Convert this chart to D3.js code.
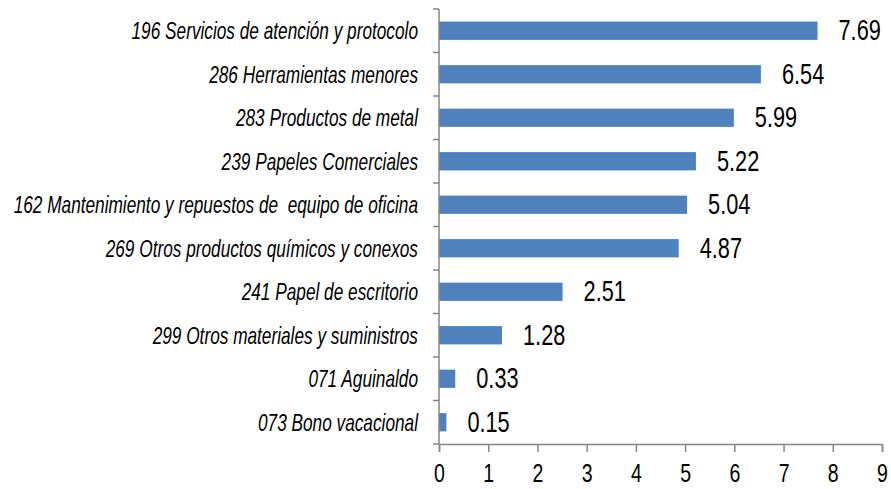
<!DOCTYPE html>
<html>
<head>
<meta charset="utf-8">
<script src="https://cdn.jsdelivr.net/npm/d3@7"></script>
<style>
  body { margin: 0; background: #fff; }
  .narrow { font-family: "Liberation Sans", Arial, sans-serif; }
</style>
</head>
<body>
<script>
// categories, top to bottom
var categories = [
  "196 Servicios de atención y protocolo",
  "286 Herramientas menores",
  "283 Productos de metal",
  "239 Papeles Comerciales",
  "162 Mantenimiento y repuestos de  equipo de oficina",
  "269 Otros productos químicos y conexos",
  "241 Papel de escritorio",
  "299 Otros materiales y suministros",
  "071 Aguinaldo",
  "073 Bono vacacional"
];
var values = [7.69, 6.54, 5.99, 5.22, 5.04, 4.87, 2.51, 1.28, 0.33, 0.15];
var xTicks = [0, 1, 2, 3, 4, 5, 6, 7, 8, 9];

var width = 891, height = 489;
var margin = {top: 9, right: 9, bottom: 45, left: 439};
// no narrow font installed, so squeeze the regular one sideways
var squeeze = 0.75;

var svg = d3.select("body").append("svg")
  .attr("width", width)
  .attr("height", height);

var x = d3.scaleLinear()
  .domain([0, 9])
  .range([margin.left, width - margin.right]);

var y = d3.scaleBand()
  .domain(categories)
  .range([margin.top, height - margin.bottom])
  .paddingInner(0.58)
  .paddingOuter(0.29);

// bars
svg.selectAll("rect.bar")
  .data(values)
  .enter().append("rect")
  .attr("class", "bar")
  .attr("x", x(0))
  .attr("y", function(d, i) { return y(categories[i]); })
  .attr("width", function(d) { return x(d) - x(0); })
  .attr("height", y.bandwidth())
  .attr("fill", "#4f81bd");

// value labels
svg.selectAll("text.val")
  .data(values)
  .enter().append("text")
  .attr("class", "val narrow")
  .attr("transform", function(d, i) {
    return "translate(" + (x(d) + 21) + "," + (y(categories[i]) + y.bandwidth() / 2 - 1) + ") scale(" + squeeze + ",1)";
  })
  .attr("dy", "0.36em")
  .attr("font-size", 29)
  .attr("fill", "#000")
  .text(function(d) { return d.toFixed(2); });

// y axis: line plus ticks between categories
var axisColor = "#868686";
var step = y.step();
var yEdges = d3.range(categories.length + 1).map(function(i) { return margin.top + i * step; });

svg.append("line")
  .attr("x1", x(0)).attr("x2", x(0))
  .attr("y1", margin.top).attr("y2", height - margin.bottom)
  .attr("stroke", axisColor).attr("stroke-width", 1.5);

svg.selectAll("line.ytick")
  .data(yEdges)
  .enter().append("line")
  .attr("class", "ytick")
  .attr("x1", x(0) - 6).attr("x2", x(0))
  .attr("y1", function(d) { return d; }).attr("y2", function(d) { return d; })
  .attr("stroke", axisColor).attr("stroke-width", 1.5);

// category labels
svg.selectAll("text.cat")
  .data(categories)
  .enter().append("text")
  .attr("class", "cat narrow")
  .attr("transform", function(d) {
    return "translate(" + (x(0) - 21) + "," + (y(d) + y.bandwidth() / 2) + ") scale(" + squeeze + ",1)";
  })
  .attr("dy", "0.36em")
  .attr("text-anchor", "end")
  .attr("font-size", 23)
  .attr("font-style", "italic")
  .attr("fill", "#000")
  .style("white-space", "pre")
  .text(function(d) { return d; });

// x axis
var xAxis = svg.append("g")
  .attr("transform", "translate(0," + (height - margin.bottom) + ")")
  .call(d3.axisBottom(x).tickValues(xTicks).tickSize(8).tickPadding(12).tickFormat(d3.format("d")));

xAxis.select(".domain").attr("stroke", axisColor).attr("stroke-width", 1.5);
xAxis.selectAll(".tick line").attr("stroke", axisColor).attr("stroke-width", 1.5);
xAxis.selectAll(".tick text")
  .attr("class", "narrow")
  .attr("font-size", 26)
  .attr("fill", "#000")
  .attr("transform", "scale(" + squeeze + ",1)");
</script>
</body>
</html>
